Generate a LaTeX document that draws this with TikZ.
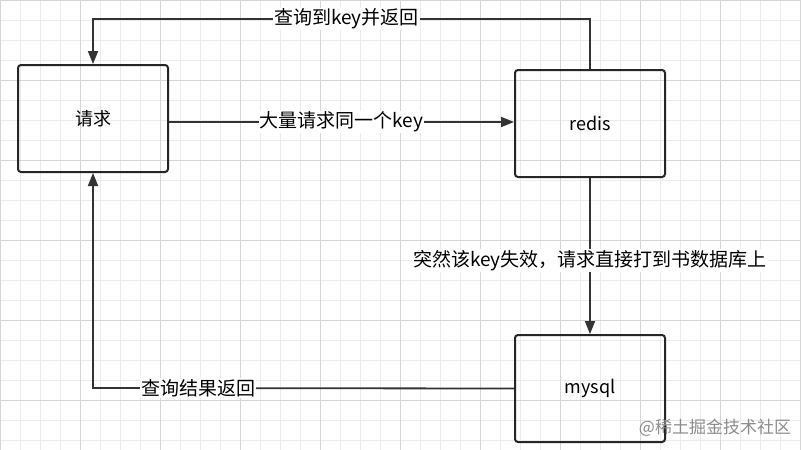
\documentclass[tikz,border=0pt]{standalone}
\usepackage{fontspec}
\setmainfont{Noto Sans CJK SC}
\usetikzlibrary{arrows.meta,positioning}
\tikzset{
  box/.style={draw=black!85, line width=2pt, rounded corners=3pt, minimum width=150pt, minimum height=107pt, font=\fontsize{18}{20}\selectfont},
  flow/.style={draw=black!80, line width=1.8pt, -{Triangle[length=13pt,width=10pt]}},
  lbl/.style={fill=white, inner sep=1pt, font=\fontsize{19}{21}\selectfont}
}
\begin{document}
\begin{tikzpicture}[x=1pt,y=-1pt]
\useasboundingbox (0,0) rectangle (801,450);
\fill[white] (0,0) rectangle (801,450);
\draw[black!8, line width=0.5pt] (0,0) grid[step=20pt] (801,450);
\draw[black!16, line width=0.6pt] (0,0) grid[step=80pt] (801,450);
\node[box] (req) at (93,118.5) {请求};
\node[box] (redis) at (590,123.5) {redis};
\node[box] (mysql) at (590,388.5) {mysql};
\coordinate (t1) at (590,19);
\coordinate (t2) at (93,19);
\coordinate (b1) at (93,388);
\draw[flow] (redis.north) -- (t1) -- node[lbl, pos=0.49] {查询到key并返回} (t2) -- (req.north);
\draw[flow] (req.east |- 0,122) -- node[lbl, pos=0.5] {大量请求同一个key} (redis.west |- 0,122);
\draw[flow] (redis.south) -- node[lbl, pos=0.53] {突然该key失效，请求直接打到书数据库上} (mysql.north);
\draw[flow] (mysql.west) -- node[lbl, pos=0.75] {查询结果返回} (b1) -- (req.south);
\node[text=black!45, font=\fontsize{17}{19}\selectfont] (wm) at (715,428) {@稀土掘金技术社区};
\end{tikzpicture}
\end{document}
